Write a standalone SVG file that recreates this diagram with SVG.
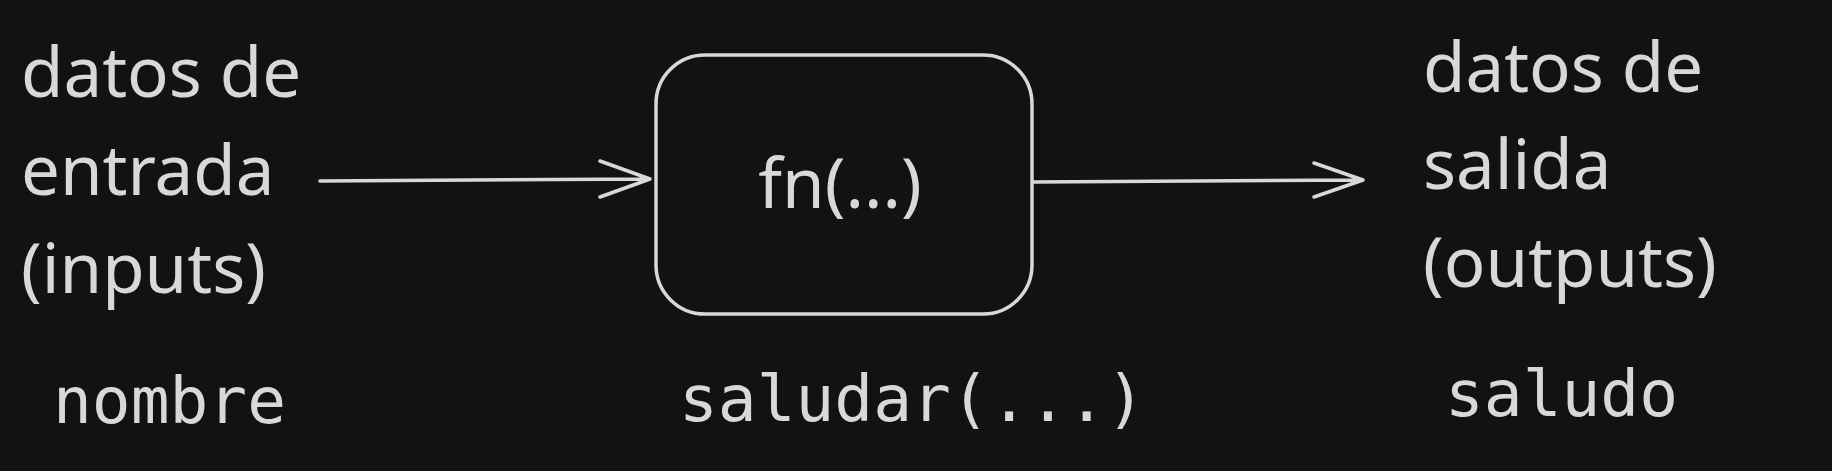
<svg xmlns="http://www.w3.org/2000/svg" width="1832" height="471" viewBox="0 0 1832 471">
<style>
.t{font-family:"Noto Sans","Open Sans",sans-serif;font-size:69px;fill:#d8d8d8}
.m{font-family:"DejaVu Sans Mono","Liberation Mono",monospace;font-size:64.5px;fill:#d8d8d8}
.s{fill:none;stroke:#d8d8d8;stroke-width:3.5;stroke-linecap:round;stroke-linejoin:round}
</style>
<rect width="1832" height="471" fill="#121212"/>
<g id="inputs">
<text class="t" x="21" y="97">datos de</text>
<text class="t" x="21" y="195">entrada</text>
<text class="t" x="21" y="293">(inputs)</text>
</g>
<g id="fn">
<rect class="s" x="656" y="55" width="376" height="259" rx="49" ry="49"/>
<text class="t" x="840" y="208" text-anchor="middle">fn(...)</text>
</g>
<g id="outputs">
<text class="t" x="1423" y="92">datos de</text>
<text class="t" x="1423" y="189">salida</text>
<text class="t" x="1423" y="287">(outputs)</text>
</g>
<g id="nombre"><text class="m" x="53" y="423">nombre</text></g>
<g id="saludar"><text class="m" x="679" y="421">saludar(...)</text></g>
<g id="saludo"><text class="m" x="1445" y="416">saludo</text></g>
<g id="connectors">
<path class="s" d="M320 181 L650 179 M600 161 L650 179 L600 197"/>
<path class="s" d="M1034 182 L1363 180 M1314 163 L1363 180 L1314 197"/>
</g>
</svg>
